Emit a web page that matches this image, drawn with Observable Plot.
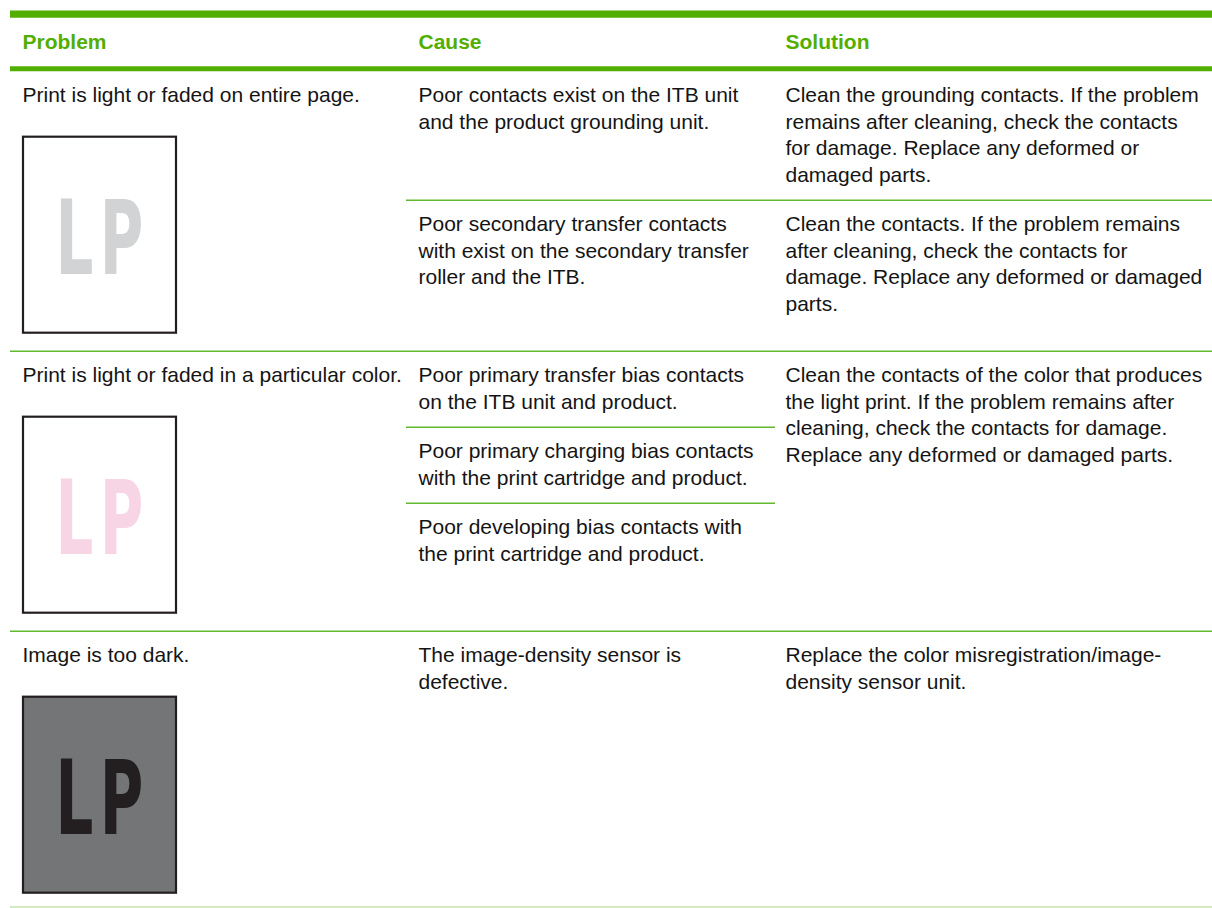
<!DOCTYPE html>
<html>
<head>
<meta charset="utf-8">
<script src="https://cdn.jsdelivr.net/npm/d3@7"></script>
<script src="https://cdn.jsdelivr.net/npm/@observablehq/plot@0.6"></script>
<style>
  html, body { margin: 0; padding: 0; background: #ffffff; }
  #chart svg { display: block; }
</style>
</head>
<body>
<div id="chart"></div>
<script>
// ---------- data ----------
const headers = ["Problem", "Cause", "Solution"];

const problems = [
  "Print is light or faded on entire page.",
  "Print is light or faded in a particular color.",
  "Image is too dark."
];

const sampleLabels = ["LP", "LP", "LP"];
const sampleInk = ["#d1d3d4", "#f8d5e5", "#231f20"];
const samplePaper = ["#ffffff", "#ffffff", "#737577"];

const causes = [
  [
    ["Poor contacts exist on the ITB unit", "and the product grounding unit."],
    ["Poor secondary transfer contacts", "with exist on the secondary transfer", "roller and the ITB."]
  ],
  [
    ["Poor primary transfer bias contacts", "on the ITB unit and product."],
    ["Poor primary charging bias contacts", "with the print cartridge and product."],
    ["Poor developing bias contacts with", "the print cartridge and product."]
  ],
  [
    ["The image-density sensor is", "defective."]
  ]
];

const solutions = [
  [
    ["Clean the grounding contacts. If the problem", "remains after cleaning, check the contacts", "for damage. Replace any deformed or", "damaged parts."],
    ["Clean the contacts. If the problem remains", "after cleaning, check the contacts for", "damage. Replace any deformed or damaged", "parts."]
  ],
  [
    ["Clean the contacts of the color that produces", "the light print. If the problem remains after", "cleaning, check the contacts for damage.", "Replace any deformed or damaged parts."]
  ],
  [
    ["Replace the color misregistration/image-", "density sensor unit."]
  ]
];

// ---------- layout (positions & styles) ----------
const W = 1212, H = 908;
const L = {
  colX: [22, 418, 785],
  ruleLeft: 10, ruleRight: W,
  subLeft: 406, causeRight: 775,
  topBarW: 7.3, headBarW: 5,
  headerTop: 17.3, headerBottom: 65.7,
  lh: 26.5, padTop: 31, padBottom: 18.5,
  imgX: 22, imgW: 155, imgOffset: 65, imgH: 198, imgPadBottom: 17,
  lpX: 55, lpW: 94, lpSpacing: 10, lpBaseline: 138, lpSize: 104,
  fontSize: 21
};
const green = "#52ae00";
const lineGreen = "#62b92f";
const lastGreen = "#c6e3b1";
const ink = "#141414";

// ---------- build table geometry ----------
const headerTexts = headers.map((h, i) => ({x: L.colX[i], y: L.headerTop + L.padTop, text: h}));
const bars = [
  {y: L.headerTop - L.topBarW / 2, w: L.topBarW},
  {y: L.headerBottom + L.headBarW / 2, w: L.headBarW}
];
const bodyTexts = [];
const subRules = [];
const rowRules = [];
const boxes = [];
const letters = [];

let rowCursor = L.headerBottom + L.headBarW;
problems.forEach((p, r) => {
  const rowTop = rowCursor;
  bodyTexts.push({x: L.colX[0], y: rowTop + L.padTop, text: p});
  const imgTop = rowTop + L.imgOffset;
  boxes.push({x1: L.imgX + 1, x2: L.imgX + L.imgW - 1, y1: imgTop + 1, y2: imgTop + L.imgH - 1, fill: samplePaper[r]});
  letters.push({x: L.lpX, y: imgTop + L.lpBaseline, text: sampleLabels[r], fill: sampleInk[r]});

  const cs = causes[r], ss = solutions[r];
  const paired = ss.length === cs.length;
  let subTop = rowTop;
  cs.forEach((c, k) => {
    c.forEach((line, j) => bodyTexts.push({x: L.colX[1], y: subTop + L.padTop + j * L.lh, text: line}));
    let n = c.length;
    if (paired) {
      ss[k].forEach((line, j) => bodyTexts.push({x: L.colX[2], y: subTop + L.padTop + j * L.lh, text: line}));
      n = Math.max(n, ss[k].length);
    }
    subTop += L.padTop + (n - 1) * L.lh + L.padBottom;
    if (k < cs.length - 1) subRules.push({y: subTop, x1: L.subLeft, x2: paired ? L.ruleRight : L.causeRight});
  });
  if (!paired) ss[0].forEach((line, j) => bodyTexts.push({x: L.colX[2], y: rowTop + L.padTop + j * L.lh, text: line}));

  const rowH = Math.max(subTop - rowTop, L.imgOffset + L.imgH + L.imgPadBottom);
  rowCursor = rowTop + rowH;
  rowRules.push({y: Math.min(rowCursor, H - 1.5), x1: L.ruleLeft, x2: L.ruleRight, last: r === problems.length - 1});
});

// ---------- plot ----------
const chart = Plot.plot({
  width: W,
  height: H,
  margin: 0,
  x: {domain: [0, W], range: [0, W], axis: null},
  y: {domain: [0, H], range: [0, H], axis: null},
  color: {type: "identity"},
  style: {fontFamily: "'Liberation Sans', Arial, Helvetica, sans-serif", background: "#ffffff", overflow: "visible"},
  marks: [
    Plot.ruleY(bars, {y: "y", x1: L.ruleLeft, x2: L.ruleRight, stroke: green, strokeWidth: "w"}),
    Plot.ruleY(rowRules.filter(d => !d.last), {y: "y", x1: "x1", x2: "x2", stroke: lineGreen, strokeWidth: 1.5}),
    Plot.ruleY(rowRules.filter(d => d.last), {y: "y", x1: "x1", x2: "x2", stroke: lastGreen, strokeWidth: 1.5}),
    Plot.ruleY(subRules, {y: "y", x1: "x1", x2: "x2", stroke: lineGreen, strokeWidth: 1.5}),
    Plot.rect(boxes, {x1: "x1", x2: "x2", y1: "y1", y2: "y2", fill: "fill", stroke: "#231f20", strokeWidth: 2.2}),
    Plot.text(letters, {x: "x", y: "y", text: "text", fill: "fill", textAnchor: "start", lineAnchor: "bottom",
      fontSize: L.lpSize, fontWeight: "bold", fontFamily: "'DejaVu Sans', sans-serif"}),
    Plot.text(headerTexts, {x: "x", y: "y", text: "text", fill: green, textAnchor: "start", lineAnchor: "bottom",
      fontSize: L.fontSize, fontWeight: "bold"}),
    Plot.text(bodyTexts, {x: "x", y: "y", text: "text", fill: ink, textAnchor: "start", lineAnchor: "bottom",
      fontSize: L.fontSize})
  ]
});

// condense the sample "LP" glyphs to the width of the printed sample
chart.querySelectorAll("text").forEach(t => {
  if (sampleLabels.includes(t.textContent)) {
    t.style.letterSpacing = L.lpSpacing + "px";
    t.style.fontStretch = "condensed";
    t.setAttribute("textLength", L.lpW);
    t.setAttribute("lengthAdjust", "spacingAndGlyphs");
  }
});

document.getElementById("chart").appendChild(chart);
</script>
</body>
</html>
